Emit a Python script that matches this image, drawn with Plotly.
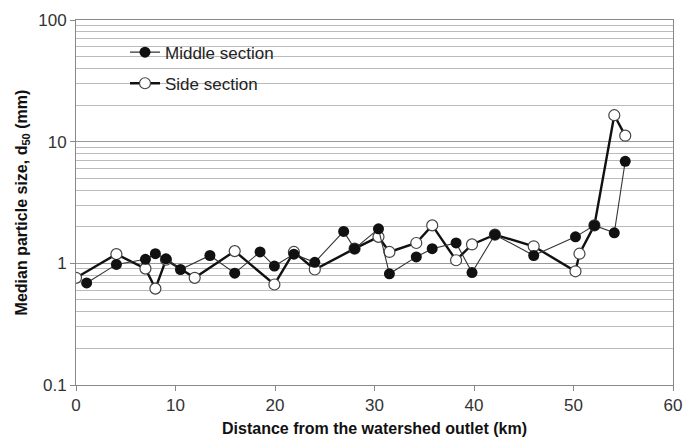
import plotly.graph_objects as go

# Middle section (filled markers)
middle_x = [1.07, 4.06, 6.98, 7.98, 9.04, 10.5, 13.46, 15.95, 18.5, 19.94, 21.9, 24.0,
            26.9, 28.0, 30.4, 31.5, 34.2, 35.8, 38.2, 39.8, 42.1, 46.0, 50.2, 52.1, 54.1, 55.2]
middle_y = [0.69, 0.98, 1.08, 1.2, 1.09, 0.89, 1.16, 0.83, 1.24, 0.95, 1.19, 1.02,
            1.83, 1.32, 1.92, 0.82, 1.13, 1.32, 1.47, 0.84, 1.72, 1.16, 1.65, 2.05, 1.78, 6.9]

# Side section (open markers)
side_x = [0.0, 4.06, 6.98, 7.98, 9.04, 11.93, 15.95, 19.94, 21.9, 24.0, 28.0, 30.4,
          31.5, 34.2, 35.8, 38.2, 39.8, 42.1, 46.0, 50.2, 50.6, 52.1, 54.1, 55.2]
side_y = [0.76, 1.19, 0.905, 0.62, 1.07, 0.76, 1.26, 0.67, 1.24, 0.89, 1.32, 1.65,
          1.24, 1.47, 2.05, 1.06, 1.43, 1.72, 1.38, 0.86, 1.2, 2.05, 16.5, 11.2]

x_ticks = [0, 10, 20, 30, 40, 50, 60]
y_ticks = [0.1, 1, 10, 100]
y_tick_text = ["0.1", "1", "10", "100"]
y_minor = [m * d for d in (0.1, 1, 10) for m in range(2, 10)]

FONT = "Liberation Sans, Arial, sans-serif"
L, R, T, B = 76, 11, 20, 60
PW, PH = 684 - L - R, 445 - T - B

fig = go.Figure()
fig.add_trace(go.Scatter(
    x=side_x, y=side_y, mode="lines+markers", name="Side section",
    line=dict(color="#111111", width=2.4),
    marker=dict(symbol="circle", size=11, color="white",
                line=dict(color="#444444", width=1.2)),
    legendrank=2, legendgroup="b"))
fig.add_trace(go.Scatter(
    x=middle_x, y=middle_y, mode="lines+markers", name="Middle section",
    line=dict(color="#333333", width=1.1),
    marker=dict(symbol="circle", size=11, color="#111111"),
    legendrank=1, legendgroup="a"))

fig.update_layout(
    width=684, height=445,
    margin=dict(l=L, r=R, t=T, b=B),
    paper_bgcolor="white", plot_bgcolor="white",
    font=dict(family=FONT, size=17, color="#333333"),
    showlegend=True,
    legend=dict(x=(125 - L) / PW, y=0.96, xanchor="left", yanchor="top",
                bgcolor="rgba(0,0,0,0)", font=dict(size=17, color="#222222"),
                tracegroupgap=6, itemwidth=30),
    xaxis=dict(range=[0, 60], tickvals=x_ticks, showgrid=False,
               showline=True, linecolor="#888888", linewidth=1, mirror=True,
               ticks="outside", ticklen=5, tickcolor="#888888",
               ticklabeloverflow="allow", automargin="height",
               tickfont=dict(size=17, color="#333333"),
               title=dict(text="<b>Distance from the watershed outlet (km)</b>",
                          font=dict(size=16, color="#111111"), standoff=8),
               zeroline=False),
    yaxis=dict(type="log", range=[-1, 2], tickvals=y_ticks, ticktext=y_tick_text,
               showgrid=True, gridcolor="#999999", gridwidth=1,
               minor=dict(tickvals=y_minor, showgrid=True, gridcolor="#bbbbbb",
                          gridwidth=1, ticks=""),
               showline=True, linecolor="#888888", linewidth=1, mirror=True,
               ticks="outside", ticklen=5, tickcolor="#888888",
               tickfont=dict(size=17, color="#333333"),
               title=dict(text="<b>Median particle size, d<sub>50</sub> (mm)</b>",
                          font=dict(size=16, color="#111111"), standoff=6)),
    shapes=[dict(type="rect", xref="paper", yref="paper",
                 x0=(110 - L) / PW, x1=(308 - L) / PW,
                 y0=1 - (98 - T) / PH, y1=1 - (34 - T) / PH,
                 fillcolor="white", line=dict(width=0), layer="between")],
)

fig.write_html("out.html")
